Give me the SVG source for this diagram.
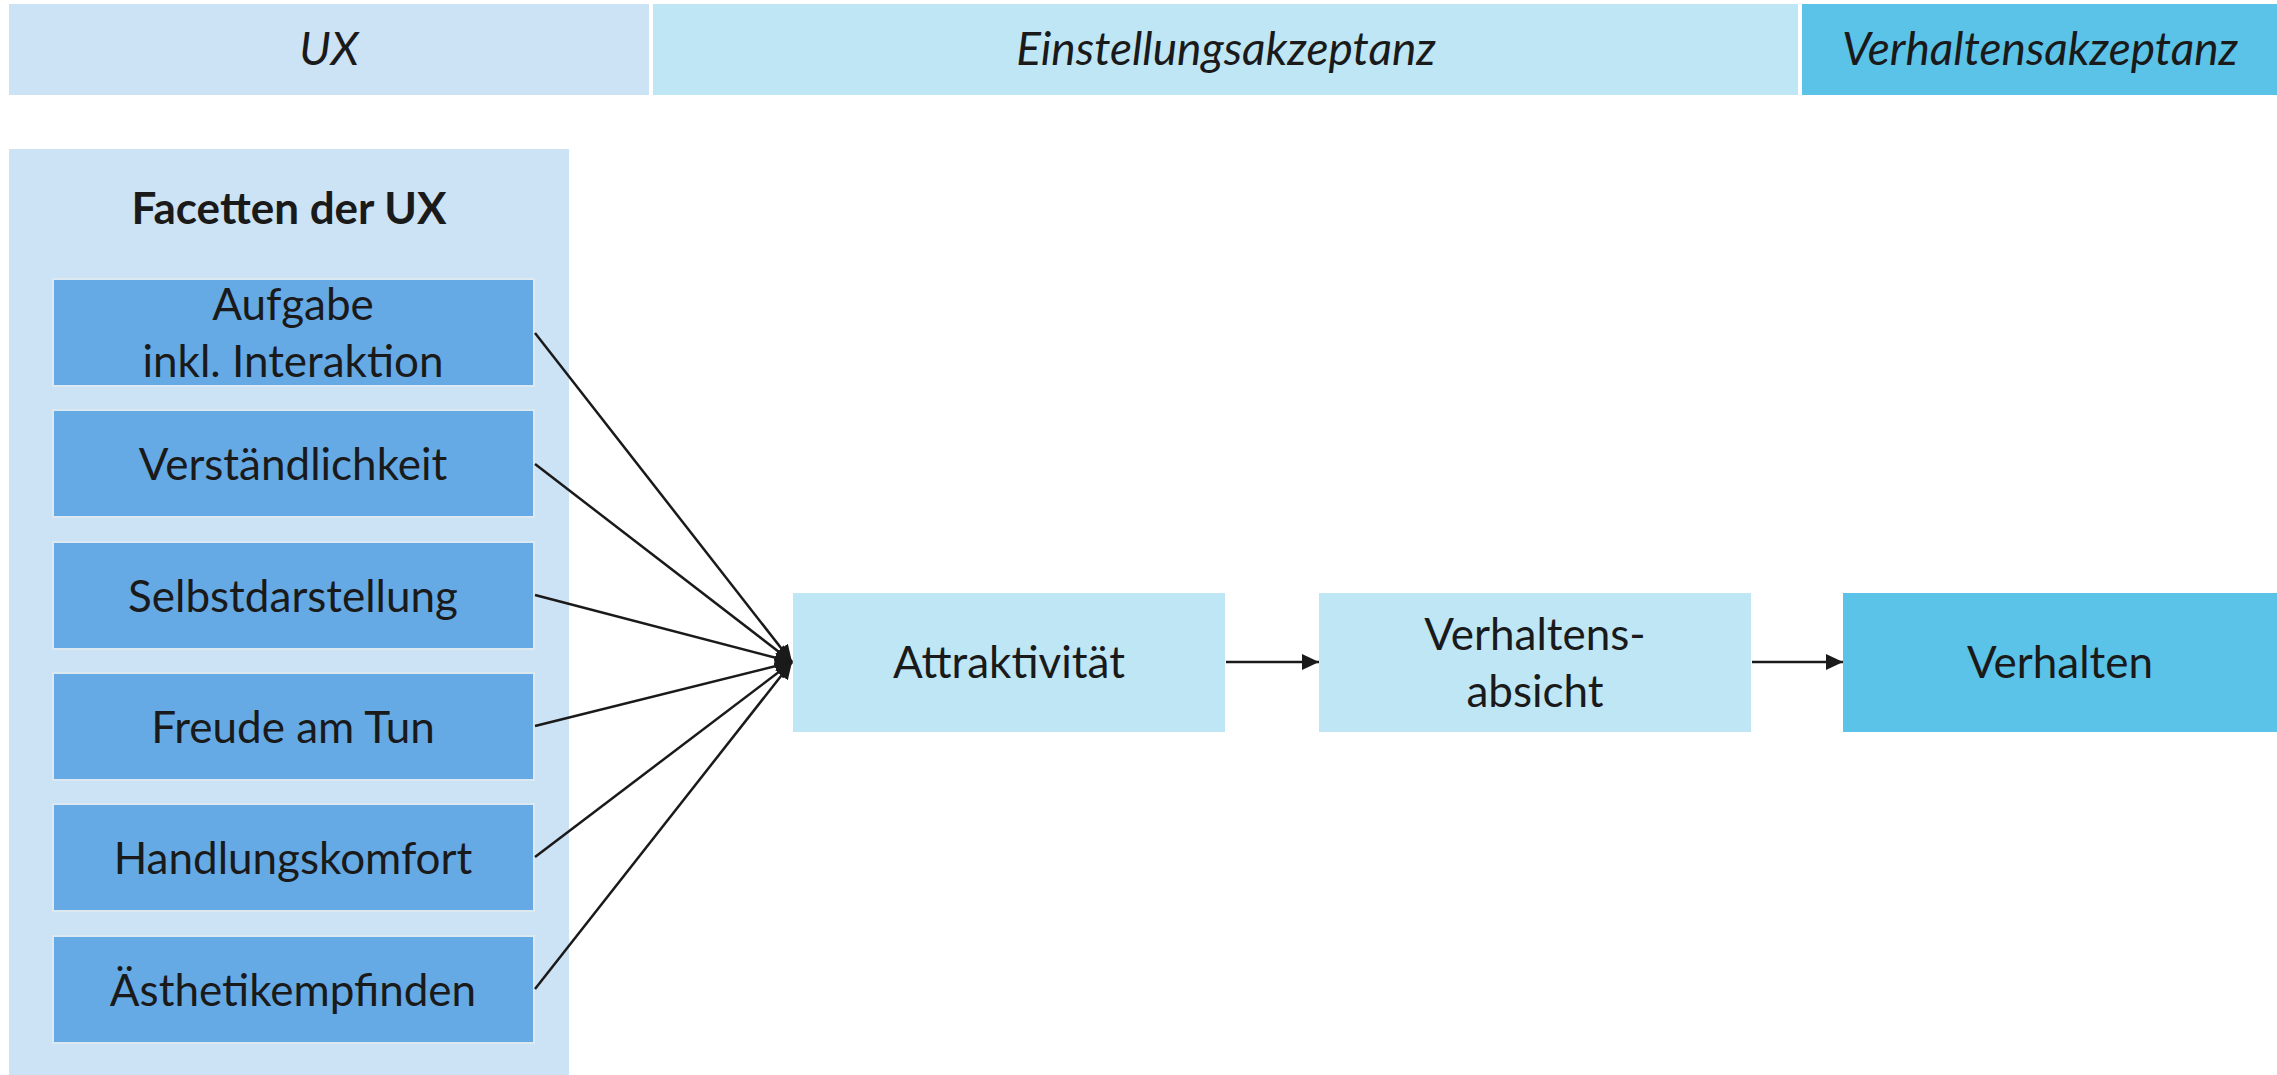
<svg xmlns="http://www.w3.org/2000/svg" width="2277" height="1075" viewBox="0 0 2277 1075">
<style>
text{font-family:Lato,"Open Sans",sans-serif;fill:#1a1a1a;text-anchor:middle;font-size:44px}
.hd{font-style:italic;font-size:46px}
.facet rect{fill:#65aae5;stroke:#dde9f0;stroke-width:2}
.conn line{stroke:#1a1a1a;stroke-width:2.5;fill:none}
</style>
<defs>
<marker id="ah" markerUnits="userSpaceOnUse" markerWidth="18" markerHeight="16" refX="17" refY="8" orient="auto">
<path d="M0,0 L17,8 L0,16 z" fill="#1a1a1a"/>
</marker>
</defs>
<rect width="2277" height="1075" fill="#ffffff"/>
<g id="hdr-ux"><rect x="9" y="4" width="640" height="91" fill="#cce2f5"/><text class="hd" x="329" y="65">UX</text></g>
<g id="hdr-einstellung"><rect x="653" y="4" width="1145" height="91" fill="#bee6f4"/><text class="hd" x="1226" y="65">Einstellungsakzeptanz</text></g>
<g id="hdr-verhalten"><rect x="1802" y="4" width="475" height="91" fill="#5bc3e8"/><text class="hd" x="2040" y="65">Verhaltensakzeptanz</text></g>
<g id="panel"><rect x="9" y="149" width="560" height="926" fill="#cce2f5"/><text x="289" y="224" font-weight="bold">Facetten der UX</text></g>
<g id="f1" class="facet"><rect x="53" y="279" width="481" height="107"/><text x="293" y="320">Aufgabe</text><text x="293" y="377">inkl. Interaktion</text></g>
<g id="f2" class="facet"><rect x="53" y="410" width="481" height="107"/><text x="293" y="480">Verständlichkeit</text></g>
<g id="f3" class="facet"><rect x="53" y="542" width="481" height="107"/><text x="293" y="612">Selbstdarstellung</text></g>
<g id="f4" class="facet"><rect x="53" y="673" width="481" height="107"/><text x="293" y="743">Freude am Tun</text></g>
<g id="f5" class="facet"><rect x="53" y="804" width="481" height="107"/><text x="293" y="874">Handlungskomfort</text></g>
<g id="f6" class="facet"><rect x="53" y="936" width="481" height="107"/><text x="293" y="1006">Ästhetikempfinden</text></g>
<g id="attr"><rect x="793" y="593" width="432" height="139" fill="#bee6f4"/><text x="1009" y="678">Attraktivität</text></g>
<g id="absicht"><rect x="1319" y="593" width="432" height="139" fill="#bee6f4"/><text x="1535" y="650">Verhaltens-</text><text x="1535" y="707">absicht</text></g>
<g id="verhalten"><rect x="1843" y="593" width="434" height="139" fill="#5bc3e8"/><text x="2060" y="678">Verhalten</text></g>
<g id="connectors" class="conn">
<line x1="535" y1="333" x2="792" y2="662" marker-end="url(#ah)"/>
<line x1="535" y1="464" x2="792" y2="662" marker-end="url(#ah)"/>
<line x1="535" y1="595" x2="792" y2="662" marker-end="url(#ah)"/>
<line x1="535" y1="726" x2="792" y2="662" marker-end="url(#ah)"/>
<line x1="535" y1="857" x2="792" y2="662" marker-end="url(#ah)"/>
<line x1="535" y1="989" x2="792" y2="662" marker-end="url(#ah)"/>
<line x1="1226" y1="662" x2="1319" y2="662" marker-end="url(#ah)"/>
<line x1="1752" y1="662" x2="1843" y2="662" marker-end="url(#ah)"/>
</g>
</svg>
